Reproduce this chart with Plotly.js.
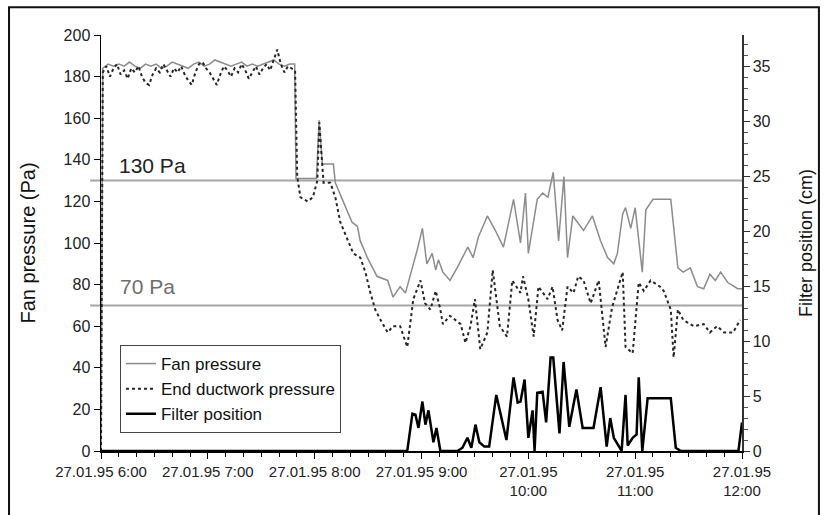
<!DOCTYPE html>
<html>
<head>
<meta charset="utf-8">
<script src="https://cdn.plot.ly/plotly-3.0.1.min.js"></script>
<style>html,body{margin:0;padding:0;background:#fff;}#chart{width:824px;height:515px;}</style>
</head>
<body>
<div id="chart"></div>
<script>
// x values: minutes after 06:00 on 27.01.95
const hourTicks = [0, 60, 120, 180, 240, 300, 360];
const hourLabels = ['27.01.95 6:00', '27.01.95 7:00', '27.01.95 8:00', '27.01.95 9:00',
  '27.01.95<br>10:00', '27.01.95<br>11:00', '27.01.95<br>12:00'];

const fanTime = [0, 1, 4, 7, 10, 13, 16, 19, 22, 25, 28, 31, 34, 37, 40, 43, 46, 49, 52, 55, 58, 61, 64, 67, 70, 73, 76, 79, 82, 85, 88, 91, 94, 97, 100, 103, 106, 108.8,
  109.5, 116, 121, 122.5, 124.3, 130.5, 131.6, 136, 141, 144, 145.6, 149.6, 155, 161, 164, 168, 171, 177.7, 180.5, 183, 186, 188, 189.5, 192, 196, 200, 206, 209, 212, 217,
  221.5, 226, 231.7, 235.6, 238.4, 240, 245, 248, 251, 254, 257, 260, 262, 265, 271, 276, 280.6, 284.5, 288, 290, 293, 294.6, 297.5, 300, 304, 306, 310, 320, 321.6,
  324, 327, 331, 335, 338.5, 342, 345, 348, 352, 357.6, 360];
const fanPressure = [0, 184, 186, 185, 186, 185, 187, 185, 184, 186, 185, 186, 184, 185, 187, 186, 185, 184, 186, 187, 185, 186, 188, 187, 186, 185, 186, 187, 185, 186, 185, 186, 187, 188, 186, 185, 186, 186,
  131, 131, 131, 159, 138, 138, 129, 120, 110, 108, 101, 93, 84, 82, 74, 79, 76, 97, 107, 90, 95, 87, 92, 86, 82, 88, 98, 93, 103, 113,
  106, 98, 121, 100, 124, 95, 121, 124, 122, 134, 101, 132, 93, 113, 106, 113, 101, 93, 90, 95, 114, 117, 107, 117, 86, 116, 121, 121, 108,
  88, 86, 88, 79, 78, 85, 82, 86, 81, 78, 78];

const ductTime = [0, 1, 3, 5, 7, 9, 11, 13, 15, 17, 19, 21, 23, 25, 27, 29, 31, 33, 35, 37, 39, 41, 43, 45, 47, 49, 51, 53, 55, 57, 59, 61, 63, 65, 67, 69, 71, 73, 75, 77, 79, 81, 83, 85, 87, 89, 91, 93, 95, 97, 99, 101, 103, 105, 107, 109,
  110.2, 112, 116, 119, 121.5, 122.6, 124.3, 125, 128.8, 131.6, 134.4, 138, 141.7, 145.6, 148.5, 151, 154, 157, 161, 164, 168, 172, 174, 175.4, 179.4, 182, 185, 188, 190.6,
  192, 196, 202, 204.7, 207.5, 210, 213, 217, 220, 224, 228, 231, 235.6, 237, 240, 243, 245.7, 250.8, 253.6, 256.4, 259, 262, 265.4, 268, 271, 275, 279.5, 283.4, 287,
  293, 294.6, 298.6, 302, 304.8, 308.7, 314, 316, 320, 321.6, 324, 327, 333, 338.5, 342, 346, 350, 355, 359];
const ductPressure = [0, 182, 185, 180, 184, 186, 181, 183, 179, 184, 182, 185, 180, 177, 176, 181, 184, 182, 186, 183, 180, 184, 182, 185, 181, 178, 176, 182, 186, 187, 184, 182, 179, 176, 181, 185, 183, 180, 184, 182, 186, 183, 179, 182, 185, 181, 184, 186, 183, 188, 193, 186, 182, 185, 184, 183,
  132, 122, 120, 122, 130, 158, 137, 129, 129, 122, 110, 103, 95, 93, 86, 77, 68, 63, 57, 60, 60, 50, 63, 73, 82, 71, 68, 77, 68,
  61, 65, 61, 52, 60, 73, 49, 57, 87, 60, 55, 82, 76, 84, 73, 55, 79, 73, 79, 63, 58, 79, 76, 84, 82, 71, 82, 50, 69,
  86, 50, 47, 81, 77, 82, 79, 77, 68, 45, 68, 63, 60, 61, 57, 60, 57, 57, 63];

const filterTime = [0, 172, 174.9, 176.6, 178.3, 180.5, 182.2, 183.9, 186.7, 188.4, 190.6, 200.2, 203, 205.8, 208, 210.3, 212.5, 215.3, 218, 222,
  227.7, 231.7, 234, 235.6, 237.9, 240, 242.4, 243.5, 245, 248, 250, 252.5, 254, 257.5, 259.8, 263, 267, 270.5, 276.6, 280.6,
  284, 286, 288, 290.7, 292.4, 294.6, 295.8, 298.6, 300.8, 302, 304, 307, 320, 322.8, 325.6, 358, 360];
const filterPosition = [0, 0, 3.4, 3.3, 2.1, 4.5, 2.4, 3.7, 0.8, 2.1, 0, 0, 0.3, 1.2, 0.3, 2.4, 0.8, 0.4, 0.4, 5.1,
  1.0, 6.7, 4.4, 4.5, 6.5, 1.2, 3.7, 0, 5.3, 5.4, 2.6, 8.5, 8.5, 1.6, 8.1, 2.2, 5.6, 2.1, 2.1, 5.8,
  0.4, 3.0, 1.2, 0.4, 0, 5.1, 0.5, 1.2, 1.5, 6.7, 0, 4.8, 4.8, 0.3, 0, 0, 2.6];

const limitValues = [130, 70];
const limitLabels = ['130 Pa', '70 Pa'];
const seriesNames = ['Fan pressure', 'End ductwork pressure', 'Filter position'];

const FONT = 'Liberation Sans, Arial, sans-serif';

const traces = [
  {x: fanTime, y: fanPressure, name: seriesNames[0], type: 'scatter', mode: 'lines',
   line: {color: '#8c8c8c', width: 1.5}},
  {x: ductTime, y: ductPressure, name: seriesNames[1], type: 'scatter', mode: 'lines',
   line: {color: '#262626', width: 2, dash: 'dot'}},
  {x: filterTime, y: filterPosition, name: seriesNames[2], type: 'scatter', mode: 'lines', yaxis: 'y2',
   line: {color: '#000', width: 2.5}}
];

const shapes = limitValues.map(v => ({
  type: 'line', xref: 'paper', yref: 'y', x0: -0.017, x1: 1, y0: v, y1: v,
  line: {color: '#a6a6a6', width: 2}, layer: 'below'
}));
shapes.push({type: 'rect', xref: 'paper', yref: 'paper', x0: -0.1435, x1: 1.12, y0: -0.17, y1: 1.067,
  line: {color: '#111', width: 2}});

const annotations = [
  {text: limitLabels[0], x: 0.0796, xref: 'paper', y: 137.5, yref: 'y', showarrow: false,
   xanchor: 'center', yanchor: 'middle',
   font: {family: FONT, size: 21, color: '#222'}},
  {text: limitLabels[1], x: 0.072, xref: 'paper', y: 79, yref: 'y', showarrow: false,
   xanchor: 'center', yanchor: 'middle',
   font: {family: FONT, size: 21, color: '#6e6e6e'}}
];

const layout = {
  width: 824, height: 515,
  margin: {l: 101, r: 82, t: 35, b: 64, pad: 0},
  paper_bgcolor: '#fff', plot_bgcolor: '#fff',
  font: {family: FONT, color: '#222'},
  showlegend: true,
  legend: {x: 0.0296, y: 0.2548, xanchor: 'left', yanchor: 'top', bgcolor: '#fff',
    bordercolor: '#444', borderwidth: 1, font: {family: FONT, size: 17, color: '#111'},
    tracegroupgap: 0},
  xaxis: {range: [0, 360], tickmode: 'array', tickvals: hourTicks, ticktext: hourLabels,
    ticks: 'outside', ticklen: 6, tickcolor: '#000', tickwidth: 1,
    showline: true, linecolor: '#000', linewidth: 1.5, showgrid: false, zeroline: false,
    tickfont: {family: FONT, size: 15, color: '#222'},
    minor: {tickmode: 'linear', tick0: 0, dtick: 10, ticks: 'outside', ticklen: 4, tickcolor: '#000', showgrid: false}},
  yaxis: {range: [0, 200], tick0: 0, dtick: 20, ticks: 'outside', ticklen: 6, tickcolor: '#000',
    showline: true, linecolor: '#000', linewidth: 1.5, showgrid: false, zeroline: false,
    tickfont: {family: FONT, size: 16, color: '#222'},
    title: {text: 'Fan pressure (Pa)', font: {family: FONT, size: 20, color: '#111'}, standoff: 22}},
  yaxis2: {overlaying: 'y', side: 'right', range: [0, 37.85], tick0: 0, dtick: 5,
    ticks: 'outside', ticklen: 6, tickcolor: '#333', showline: true, linecolor: '#333', linewidth: 1.5,
    showgrid: false, zeroline: false,
    tickfont: {family: FONT, size: 16, color: '#222'},
    minor: {tick0: 0, dtick: 1, ticks: 'outside', ticklen: 4, tickcolor: '#555', showgrid: false},
    title: {text: 'Filter position (cm)', font: {family: FONT, size: 18, color: '#111'}, standoff: 30}},
  shapes: shapes,
  annotations: annotations
};

Plotly.newPlot('chart', traces, layout, {staticPlot: true, displayModeBar: false});
</script>
</body>
</html>
